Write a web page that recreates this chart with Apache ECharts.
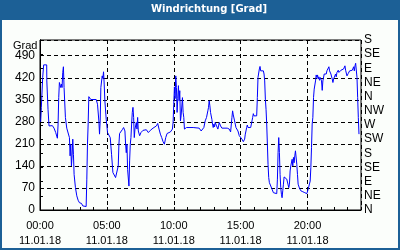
<!DOCTYPE html>
<html>
<head>
<meta charset="utf-8">
<script src="https://cdn.jsdelivr.net/npm/echarts@6/dist/echarts.min.js"></script>
<style>
  html, body { margin: 0; padding: 0; background: #1c6096; }
  #chart { width: 400px; height: 250px; }
</style>
</head>
<body>
<div id="chart"></div>
<script>
// Stunde des Tages (11.01.18)
const hours = [
  0.05, 0.10, 0.20, 0.275, 0.50, 0.51, 0.60, 0.675, 0.925, 1.05, 1.175, 1.30, 1.35, 1.40, 1.45, 1.55, 1.60, 1.65, 1.70, 1.75,
  1.80, 1.90, 2.00, 2.10, 2.20, 2.25, 2.30, 2.35, 2.40, 2.45, 2.50, 2.55, 2.65, 2.75, 2.85, 2.95, 3.10, 3.20, 3.45, 3.50,
  3.55, 3.60, 3.65, 3.70, 3.80, 4.20, 4.30, 4.40, 4.45, 4.50, 4.55, 4.65, 4.70, 4.75, 4.80, 4.85, 4.90, 4.95, 5.00, 5.05,
  5.15, 5.25, 5.35, 5.45, 5.55, 5.65, 5.75, 5.85, 5.90, 5.95, 6.05, 6.15, 6.25, 6.30, 6.35, 6.40, 6.45, 6.50, 6.55, 6.60,
  6.65, 6.70, 6.75, 6.80, 6.85, 6.90, 6.95, 7.00, 7.05, 7.10, 7.20, 7.25, 7.30, 7.35, 7.45, 7.55, 7.70, 7.95, 8.10, 8.25,
  8.45, 8.70, 8.80, 8.90, 9.00, 9.10, 9.20, 9.30, 9.40, 9.50, 9.60, 9.75, 9.90, 9.95, 10.00, 10.05, 10.10, 10.15, 10.20, 10.25,
  10.30, 10.35, 10.40, 10.45, 10.50, 10.55, 10.65, 10.70, 10.75, 10.80, 10.95, 11.45, 11.90, 12.05, 12.15, 12.25, 12.35, 12.45, 12.55, 12.60,
  12.65, 12.70, 12.75, 12.85, 12.90, 12.95, 13.00, 13.05, 13.10, 13.20, 13.25, 13.30, 13.35, 13.40, 13.50, 13.60, 14.00, 14.15, 14.25, 14.30,
  14.35, 14.40, 14.45, 14.50, 14.55, 14.65, 14.80, 14.90, 15.00, 15.10, 15.20, 15.25, 15.30, 15.35, 15.40, 15.45, 15.50, 15.55, 15.75, 15.85,
  15.90, 15.95, 16.00, 16.10, 16.20, 16.25, 16.30, 16.35, 16.40, 16.45, 16.50, 16.55, 16.60, 16.70, 16.75, 16.80, 16.85, 16.90, 16.95, 17.00,
  17.05, 17.10, 17.15, 17.25, 17.35, 17.45, 17.55, 17.70, 17.75, 17.80, 17.85, 17.90, 17.95, 18.00, 18.05, 18.10, 18.15, 18.20, 18.25, 18.35,
  18.45, 18.50, 18.55, 18.60, 18.65, 18.70, 18.75, 18.80, 18.85, 18.90, 18.95, 19.00, 19.05, 19.10, 19.15, 19.20, 19.25, 19.30, 19.40, 19.50,
  19.65, 19.80, 19.90, 19.95, 20.00, 20.05, 20.15, 20.20, 20.25, 20.30, 20.35, 20.40, 20.45, 20.50, 20.55, 20.60, 20.65, 20.70, 20.75, 20.80,
  20.85, 20.90, 20.95, 21.00, 21.05, 21.10, 21.15, 21.20, 21.25, 21.30, 21.35, 21.40, 21.45, 21.55, 21.60, 21.65, 21.70, 21.75, 21.80, 21.85,
  21.90, 21.95, 22.00, 22.10, 22.15, 22.20, 22.25, 22.30, 22.35, 22.40, 22.45, 22.50, 22.55, 22.60, 22.70, 22.75, 22.80, 22.85, 22.95, 23.05,
  23.15, 23.25, 23.35, 23.45, 23.50, 23.55, 23.60, 23.65, 23.70, 23.75, 23.80, 23.85
];

// Windrichtung in Grad
const windDir = [
  280, 326, 421, 461, 461, 410, 320, 267, 268, 260, 246, 228, 270, 357, 405, 389, 400, 389, 437, 455,
  389, 294, 260, 260, 230, 172, 209, 140, 172, 225, 177, 113, 71, 45, 31, 23, 21, 13, 11, 98,
  209, 273, 360, 354, 351, 351, 336, 283, 241, 283, 389, 426, 418, 439, 400, 347, 352, 288, 267, 246,
  241, 230, 177, 119, 113, 103, 105, 140, 209, 243, 248, 255, 262, 267, 251, 209, 182, 209, 129, 124,
  76, 156, 209, 230, 273, 310, 326, 294, 230, 257, 278, 257, 294, 251, 236, 246, 253, 255, 246, 253,
  260, 267, 275, 257, 241, 230, 217, 209, 230, 243, 241, 248, 257, 278, 336, 391, 354, 426, 389, 310,
  354, 395, 347, 379, 283, 299, 357, 310, 294, 257, 262, 262, 260, 251, 253, 262, 283, 294, 315, 326,
  347, 331, 310, 288, 273, 262, 273, 264, 278, 267, 262, 257, 267, 278, 267, 260, 260, 257, 248, 270,
  294, 315, 302, 304, 283, 262, 251, 236, 230, 225, 217, 211, 225, 241, 251, 262, 270, 262, 262, 283,
  294, 306, 299, 294, 299, 357, 421, 426, 448, 456, 442, 444, 437, 442, 432, 410, 352, 320, 273, 209,
  145, 103, 87, 82, 66, 55, 52, 52, 98, 182, 230, 182, 113, 71, 50, 39, 61, 82, 105, 105,
  98, 103, 92, 71, 82, 124, 140, 145, 161, 140, 167, 150, 172, 188, 182, 145, 113, 82, 69, 61,
  58, 55, 58, 52, 58, 66, 71, 92, 135, 198, 273, 294, 357, 384, 389, 410, 429, 421, 429, 416,
  423, 412, 421, 426, 410, 380, 410, 416, 432, 434, 429, 432, 442, 448, 455, 442, 437, 432, 426, 416,
  405, 416, 421, 432, 423, 437, 442, 444, 437, 442, 432, 444, 442, 438, 448, 444, 458, 444, 426, 434,
  442, 439, 444, 455, 442, 458, 466, 472, 421, 357, 294, 241
];

const compass = ['N', 'NE', 'E', 'SE', 'S', 'SW', 'W', 'NW', 'N', 'NE', 'E', 'SE', 'S'];
const dateLabel = '11.01.18';

const chart = echarts.init(document.getElementById('chart'));

const labelFont = { color: '#000', fontFamily: 'Liberation Sans', fontSize: 11 };
const dashed = { color: '#000', type: [4, 3], width: 1 };

chart.setOption({
  animation: false,
  backgroundColor: '#1c6096',
  graphic: [
    { type: 'rect', shape: { x: 2, y: 20, width: 396, height: 228 }, style: { fill: '#fbfefb' }, z: -10, silent: true },
    { type: 'text', x: 209, y: 4, style: { text: 'Windrichtung [Grad]', fill: '#fff', align: 'center', font: 'bold 10px "DejaVu Sans"' } },
    { type: 'text', x: 13, y: 40, style: { text: 'Grad', fill: '#000', font: '11px "Liberation Sans"' } }
  ],
  grid: { left: 40, right: 39, top: 40, bottom: 40, show: true, borderColor: '#000', borderWidth: 1, backgroundColor: 'transparent' },
  xAxis: [
    {
      type: 'value', min: 0, max: 24, interval: 5,
      axisLine: { lineStyle: { color: '#000' } },
      axisTick: { show: false },
      splitLine: { show: true, lineStyle: dashed },
      axisLabel: Object.assign({}, labelFont, {
        showMaxLabel: false, margin: 8, lineHeight: 15,
        formatter: v => String(v).padStart(2, '0') + ':00\n' + dateLabel
      })
    },
    {
      type: 'value', min: 0, max: 24, interval: 1, position: 'bottom',
      axisLine: { show: false },
      axisTick: { show: true, inside: true, length: 3, lineStyle: { color: '#000' } },
      axisLabel: { show: false },
      splitLine: { show: false }
    }
  ],
  yAxis: [
    {
      type: 'value', min: 0, max: 540, interval: 70,
      axisLine: { show: true, lineStyle: { color: '#000' } },
      axisTick: { show: false },
      splitLine: { show: true, lineStyle: dashed },
      axisLabel: Object.assign({}, labelFont, { fontSize: 12, showMaxLabel: false, margin: 5 })
    },
    {
      type: 'value', min: 0, max: 540, interval: 45, position: 'right',
      axisLine: { show: true, lineStyle: { color: '#000' } },
      axisTick: { show: true, length: 3, lineStyle: { color: '#000' } },
      splitLine: { show: false },
      axisLabel: Object.assign({}, labelFont, { fontSize: 12, margin: 3, formatter: v => compass[Math.round(v / 45)] })
    }
  ],
  series: [{
    type: 'line',
    xAxisIndex: 0,
    yAxisIndex: 0,
    showSymbol: false,
    data: hours.map((h, i) => [h, windDir[i]]),
    lineStyle: { color: '#0000ff', width: 1 }
  }]
});
</script>
</body>
</html>
